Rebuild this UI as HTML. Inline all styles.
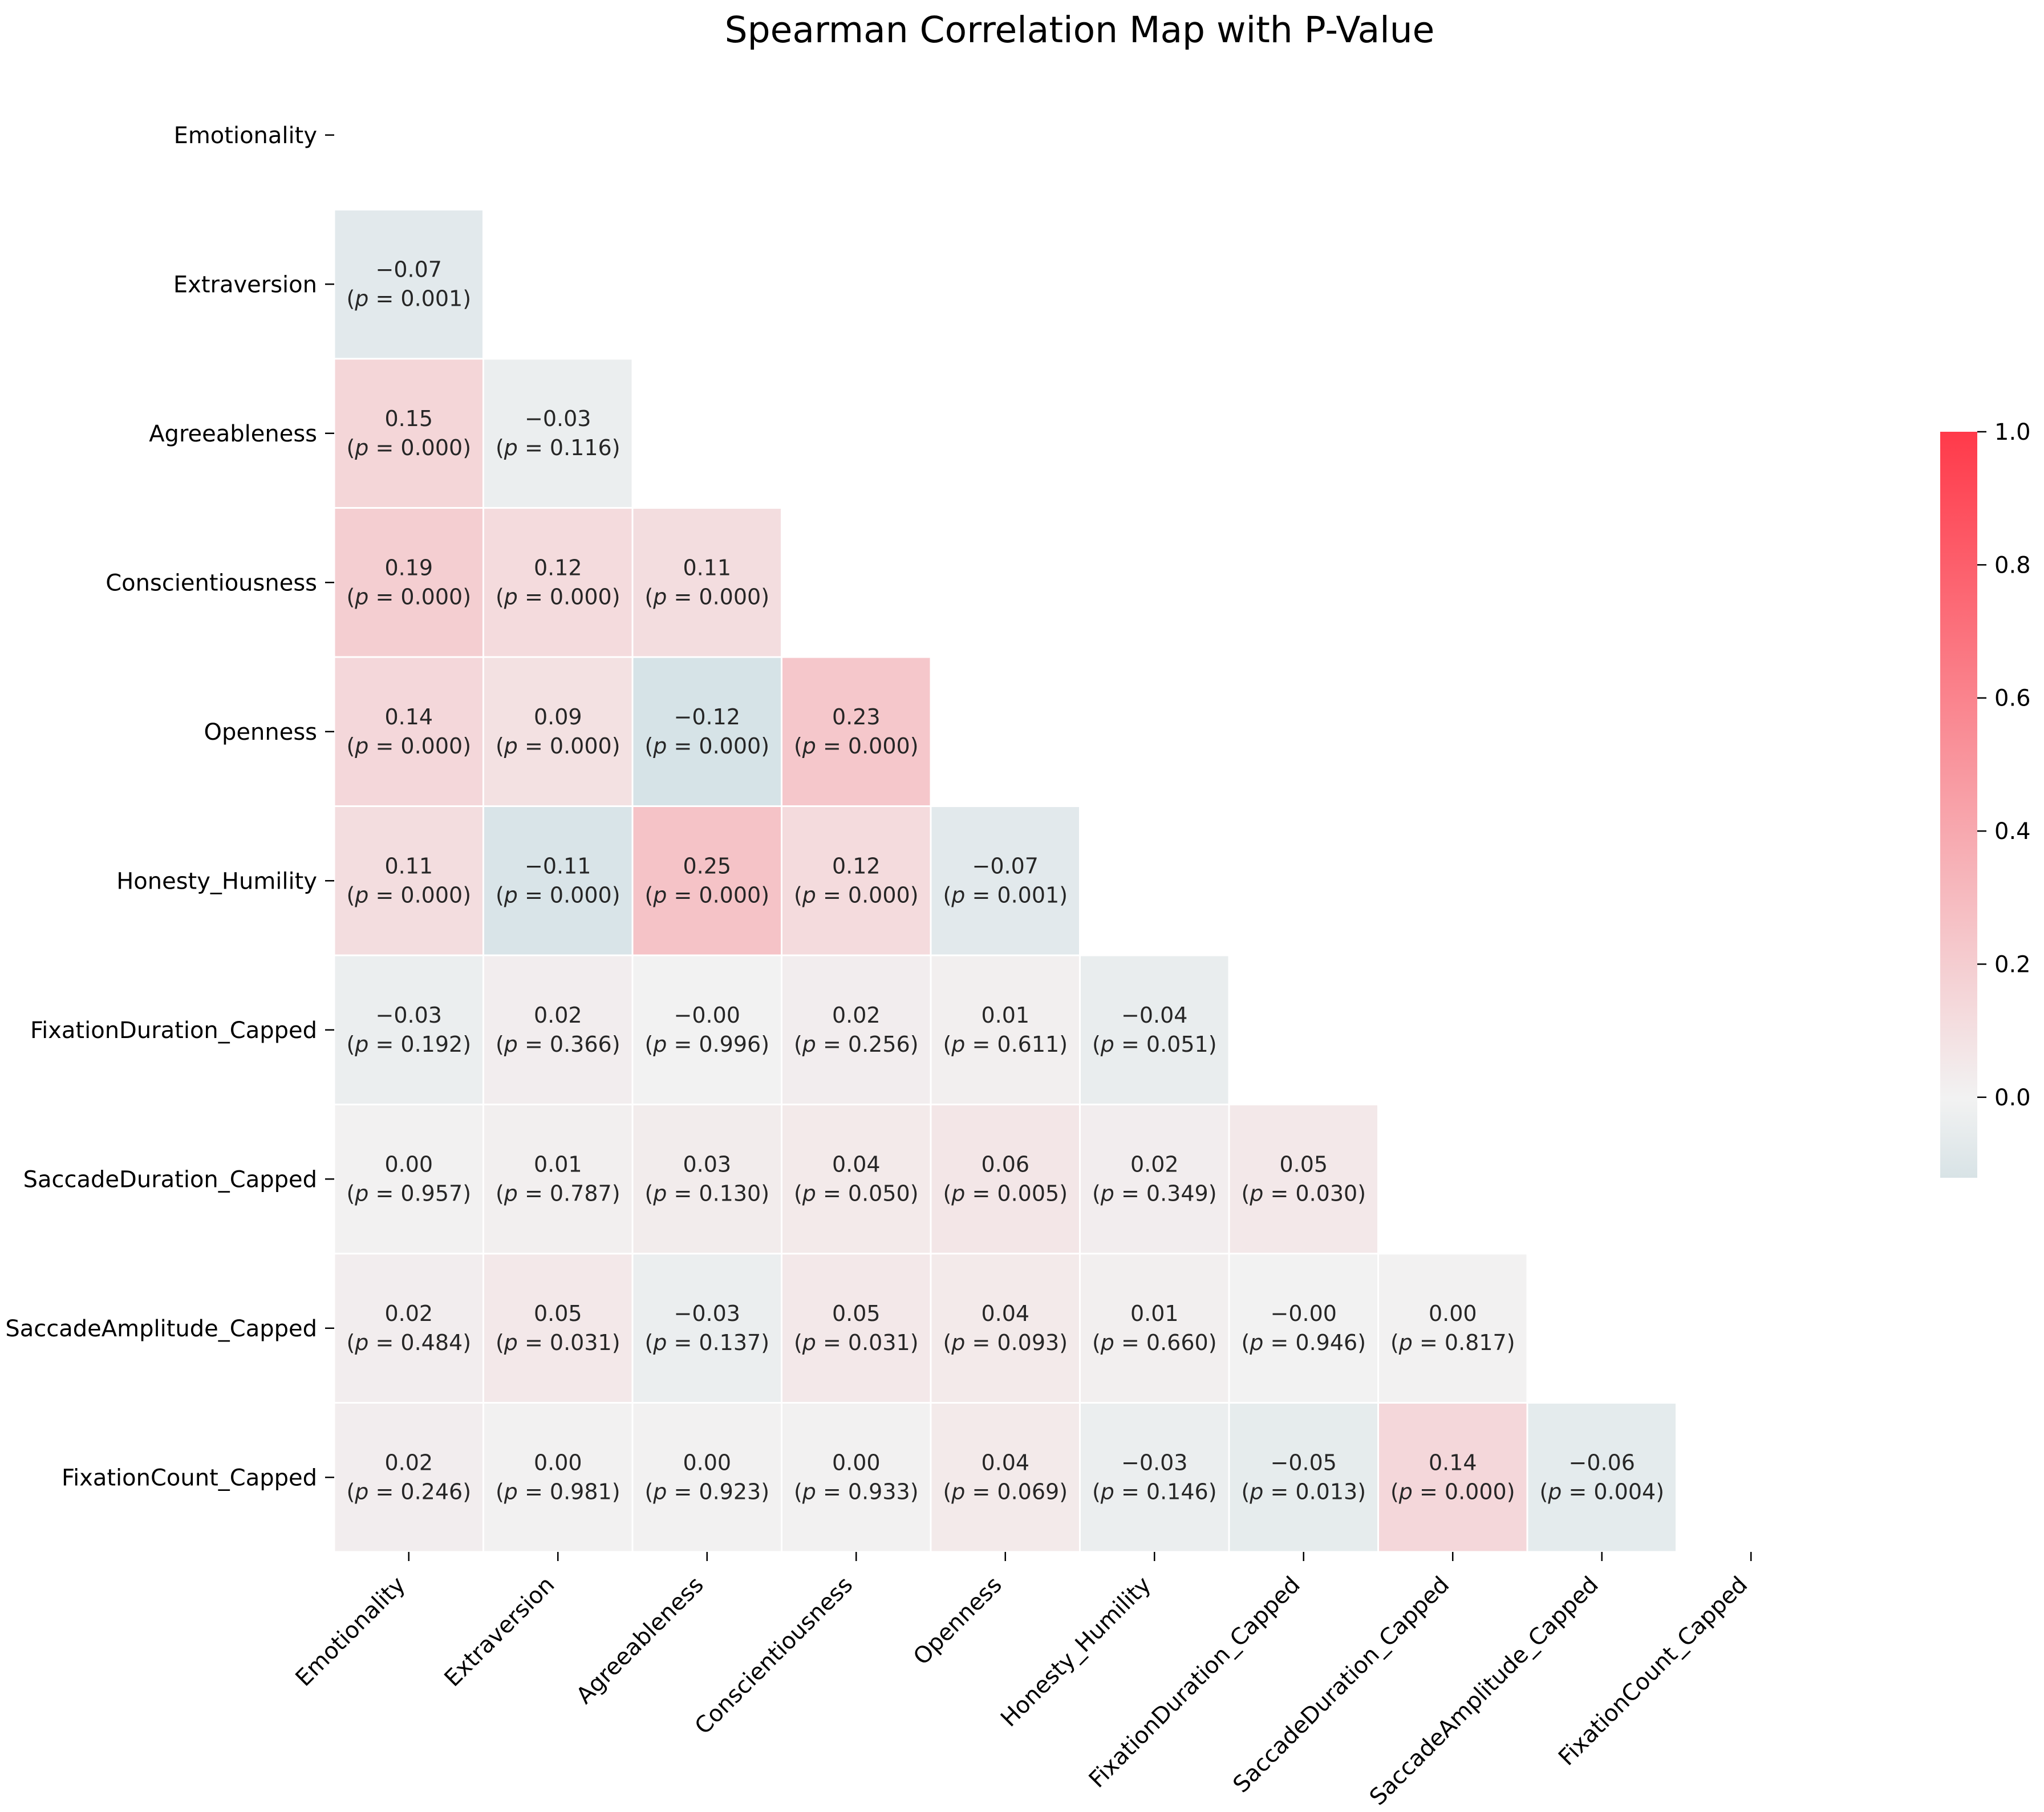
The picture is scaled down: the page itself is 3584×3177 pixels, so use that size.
<!DOCTYPE html>
<html><head><meta charset="utf-8"><style>
html,body{margin:0;padding:0;background:#fff;}
svg{display:block;font-family:"DejaVu Sans","Liberation Sans",sans-serif;}
</style></head><body>
<svg id="chart" width="3584" height="3177" viewBox="0 0 3584 3177" xmlns="http://www.w3.org/2000/svg">
<defs>
<linearGradient id="cbgrad" x1="0" y1="1" x2="0" y2="0">
<stop offset="0" stop-color="#d8e3e6"/>
<stop offset="0.107" stop-color="#f2f2f2"/>
<stop offset="1" stop-color="#ff3a4a"/>
</linearGradient>
</defs>
<text x="1893" y="74" text-anchor="middle" font-size="63" fill="#000">Spearman Correlation Map with P-Value</text>
<g id="cells"></g>
<g id="yaxis"></g>
<g id="xaxis"></g>
<g id="colorbar"></g>
</svg>
<script>
const labels = ["Emotionality","Extraversion","Agreeableness","Conscientiousness","Openness","Honesty_Humility","FixationDuration_Capped","SaccadeDuration_Capped","SaccadeAmplitude_Capped","FixationCount_Capped"];
const rVals = [
  [],
  [-0.07],
  [0.15,-0.03],
  [0.19,0.12,0.11],
  [0.14,0.09,-0.12,0.23],
  [0.11,-0.11,0.25,0.12,-0.07],
  [-0.03,0.02,-0.001,0.02,0.01,-0.04],
  [0.00,0.01,0.03,0.04,0.06,0.02,0.05],
  [0.02,0.05,-0.03,0.05,0.04,0.01,-0.001,0.00],
  [0.02,0.00,0.00,0.00,0.04,-0.03,-0.05,0.14,-0.06]
];
const pVals = [
  [],
  [0.001],
  [0.000,0.116],
  [0.000,0.000,0.000],
  [0.000,0.000,0.000,0.000],
  [0.000,0.000,0.000,0.000,0.001],
  [0.192,0.366,0.996,0.256,0.611,0.051],
  [0.957,0.787,0.130,0.050,0.005,0.349,0.030],
  [0.484,0.031,0.137,0.031,0.093,0.660,0.946,0.817],
  [0.246,0.981,0.923,0.933,0.069,0.146,0.013,0.000,0.004]
];
const cbTicks = [0.0,0.2,0.4,0.6,0.8,1.0];
const vmin = -0.121, vmax = 1.0;

const NS = "http://www.w3.org/2000/svg";
const X0 = 586, Y0 = 106, CELL = 261.5;
const FS = 40;
const xPos = i => X0 + i*CELL;
const yPos = i => Y0 + i*CELL;
function mk(tag, attrs, parent){const e=document.createElementNS(NS,tag);for(const k in attrs)e.setAttribute(k,attrs[k]);parent.appendChild(e);return e;}
function lerp(a,b,t){return Math.round(a+(b-a)*t);}
function color(v){
  let c0,c1,t;
  if(v>=0){c0=[242,241,241];c1=[255,58,74];t=Math.min(v/1,1);}
  else{c0=[242,242,242];c1=[214,227,231];t=Math.min(-v/0.121,1);}
  return `rgb(${lerp(c0[0],c1[0],t)},${lerp(c0[1],c1[1],t)},${lerp(c0[2],c1[2],t)})`;
}
const fmt = v => v.toFixed(2).replace('-','\u2212');
const cells = document.getElementById('cells');
for(let i=0;i<rVals.length;i++){
  for(let j=0;j<rVals[i].length;j++){
    const v=rVals[i][j], p=pVals[i][j];
    const g=mk('g',{},cells);
    
    
    mk('rect',{x:xPos(j),y:yPos(i),width:CELL,height:CELL,fill:color(v),stroke:'#fff','stroke-width':3},g);
    const cx=xPos(j)+CELL/2, cy=yPos(i)+CELL/2;
    const t1=mk('text',{x:cx,y:cy-13,'text-anchor':'middle','font-size':38,fill:'#262626'},g);
    t1.textContent=fmt(v);
    const t2=mk('text',{x:cx,y:cy+38,'text-anchor':'middle','font-size':38,fill:'#262626'},g);
    t2.appendChild(document.createTextNode('('));
    const ts=mk('tspan',{'font-style':'italic'},t2); ts.textContent='p';
    t2.appendChild(document.createTextNode(' = '+p.toFixed(3)+')'));
  }
}
const ya=document.getElementById('yaxis');
labels.forEach((l,i)=>{
  const cy=yPos(i)+CELL/2;
  const tk=mk('line',{x1:X0-16,x2:X0,y1:cy,y2:cy,stroke:'#000','stroke-width':2.5},ya);
  
  
  const t=mk('text',{x:X0-30,y:cy+14,'text-anchor':'end','font-size':FS,fill:'#000'},ya);
  
  
  t.textContent=l;
});
const xa=document.getElementById('xaxis');
const yB=Y0+labels.length*CELL;
labels.forEach((l,i)=>{
  const cx=xPos(i)+CELL/2;
  const tk=mk('line',{x1:cx,x2:cx,y1:yB,y2:yB+16,stroke:'#000','stroke-width':2.5},xa);
  
  
  const ax=cx-4, ay=yB+60;
  const t=mk('text',{x:ax,y:ay,'text-anchor':'end','font-size':FS,fill:'#000',transform:`rotate(-45 ${ax} ${ay})`},xa);
  
  
  t.textContent=l;
});
const cb=document.getElementById('colorbar');
const CBX=3402, CBW=65, CBT=757, CBB=2065;
const cbY = v => CBB - (v-vmin)/(vmax-vmin)*(CBB-CBT);
const bar=mk('rect',{x:CBX,y:CBT,width:CBW,height:CBB-CBT,fill:'url(#cbgrad)'},cb);


cbTicks.forEach(v=>{
  const y=cbY(v);
  const tk=mk('line',{x1:CBX+CBW,x2:CBX+CBW+16,y1:y,y2:y,stroke:'#000','stroke-width':2.5},cb);
  
  
  const t=mk('text',{x:CBX+CBW+30,y:y+14,'font-size':FS,fill:'#000'},cb);
  
  
  t.textContent=v.toFixed(1);
});
</script>
</body></html>
